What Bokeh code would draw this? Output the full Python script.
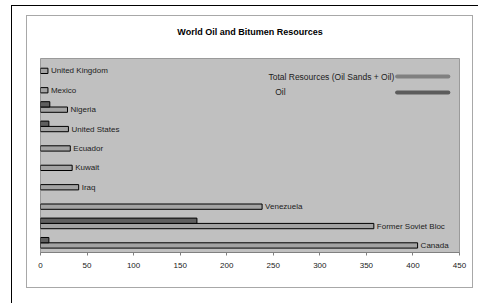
from bokeh.plotting import figure
from bokeh.models import Range1d, ColumnDataSource, Label, FixedTicker
from bokeh.core.properties import value
from bokeh.embed import file_html
from bokeh.resources import INLINE

# data (bottom to top)
countries = ["Canada", "Former Soviet Bloc", "Venezuela", "Iraq", "Kuwait",
             "Ecuador", "United States", "Nigeria", "Mexico", "United Kingdom"]
total = [405, 358, 238, 41, 34, 32, 30, 29, 8, 8]
oil = [9, 168, 0, 0, 0, 0, 9, 10, 0, 0]
ticks = [0, 50, 100, 150, 200, 250, 300, 350, 400, 450]
series_names = ["Total Resources (Oil Sands + Oil)", "Oil"]
title = "World Oil and Bitumen Resources"

FONT = "Liberation Sans"
OFF = 0.137
BH = 0.273

W, H = 478, 303
p = figure(width=W, height=H, output_backend="svg", toolbar_location=None,
           x_range=Range1d(0, 450), y_range=Range1d(0, len(countries)),
           y_axis_location=None, title=title,
           min_border_left=40, min_border_right=19, min_border_top=58, min_border_bottom=51)
p.background_fill_color = "#c0c0c0"
p.border_fill_color = None
p.outline_line_color = "#9a9a9a"
p.grid.visible = False

p.title.align = "center"
p.title.text_font = FONT
p.title.text_font_size = "9px"
p.title.text_font_style = "bold"
p.title.text_color = "black"
p.title.standoff = 44

# page frames drawn with CSS backgrounds on the figure host
lines = [
    ("#000000", 11, 5, 1, 298),    # outer left
    ("#000000", 11, 5, 467, 1),    # outer top
    ("#a8a8a8", 26, 15, 1, 273),   # inner left
    ("#a8a8a8", 472, 15, 1, 273),  # inner right
    ("#a8a8a8", 26, 15, 447, 1),   # inner top
    ("#a8a8a8", 26, 287, 447, 1),  # inner bottom
]
bg = ", ".join(f"linear-gradient({c},{c}) {x}px {y}px / {w}px {h}px no-repeat"
               for c, x, y, w, h in lines)
p.styles = {"background": bg + ", #ffffff"}

idx = list(range(len(countries)))
src_t = ColumnDataSource(dict(country=countries, total=total,
                              y=[i + 0.5 - OFF for i in idx]))
oi = [i for i in idx if oil[i] > 0]
src_o = ColumnDataSource(dict(oil=[oil[i] for i in oi], y=[i + 0.5 + OFF for i in oi]))

p.hbar(y="y", left=0, right="total", height=BH, source=src_t,
       fill_color="#a3a3a3", line_color="black", line_width=1)
p.hbar(y="y", left=0, right="oil", height=BH, source=src_o,
       fill_color="#5f5f5f", line_color="black", line_width=1)
p.text(x="total", y="y", text="country", source=src_t, x_offset=3,
       text_baseline="middle", text_align="left", text_font=value(FONT),
       text_font_size="8px", text_color="#202020")

# legend (label left, swatch right)
p.segment(x0=[383, 383], x1=[438, 438], y0=[9.07, 8.25], y1=[9.07, 8.25],
          line_color=["#808080", "#5c5c5c"], line_width=4, line_cap="round")
for name, lx, ly, al in zip(series_names, [380, 252], [9.07, 8.25], ["right", "left"]):
    p.add_layout(Label(x=lx, y=ly, text=name, text_font=FONT, text_font_size="8.5px",
                       text_align=al, text_baseline="middle", text_color="#202020"))

# x axis
ax = p.xaxis[0]
ax.ticker = FixedTicker(ticks=ticks)
ax.minor_tick_line_color = None
ax.major_tick_in = 0
ax.major_tick_out = 3
ax.axis_line_color = "#808080"
ax.major_tick_line_color = "#808080"
ax.major_label_text_font = FONT
ax.major_label_text_font_size = "8px"
ax.major_label_text_color = "#202020"
ax.major_label_standoff = 7

open("out.html", "w").write(file_html(p, INLINE))
